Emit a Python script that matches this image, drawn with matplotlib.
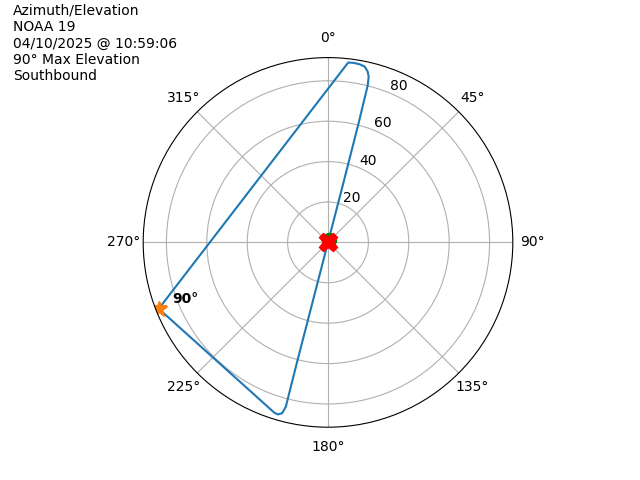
import numpy as np
import matplotlib
matplotlib.use("Agg")
import matplotlib.pyplot as plt

# Pass track (azimuth in degrees, elevation in degrees)
azimuth = [14.5, 14.5, 14.4, 14.2, 13.8, 13.0, 11.8, 10.0, 8.0, 6.4,
           248.6,
           197.5, 196.2, 195.0, 194.4, 194.5, 194.5, 194.5]
elevation = [1.2, 30, 60, 80, 84.5, 87.0, 88.9, 89.6, 89.8, 89.6,
             90.0,
             88.4, 88.7, 87.5, 84.0, 60, 30, 0]

start_az, start_el = 14.5, 1.2
end_az, end_el = 194.5, 0
max_az, max_el = 248.6, 90.0
max_label = "90°"

title_lines = ["Azimuth/Elevation", "NOAA 19", "04/10/2025 @ 10:59:06",
               "90° Max Elevation", "Southbound"]

fig = plt.figure(figsize=(6.4, 4.8), dpi=100)
ax = fig.add_subplot(111, projection="polar")
ax.set_theta_zero_location("N")
ax.set_theta_direction(-1)

ax.plot(np.radians(azimuth), elevation, color="C0", lw=1.5)
ax.plot(np.radians(start_az), start_el, "o", color="green", ms=10)
ax.plot(np.radians(end_az), end_el, "X", color="red", ms=13)
ax.plot(np.radians(max_az), max_el, "*", color="C1", ms=12)
ax.annotate(max_label, (np.radians(max_az), max_el), xytext=(10, 2),
            textcoords="offset points", fontweight="bold", fontsize=10,
            ha="left", va="bottom")

ax.set_rlim(0, 91.5)
ax.set_rticks([20, 40, 60, 80])

fig.text(13 / 640, 1 - 4 / 480, "\n".join(title_lines), ha="left", va="top", fontsize=10)

fig.savefig("out.png", dpi=100)
